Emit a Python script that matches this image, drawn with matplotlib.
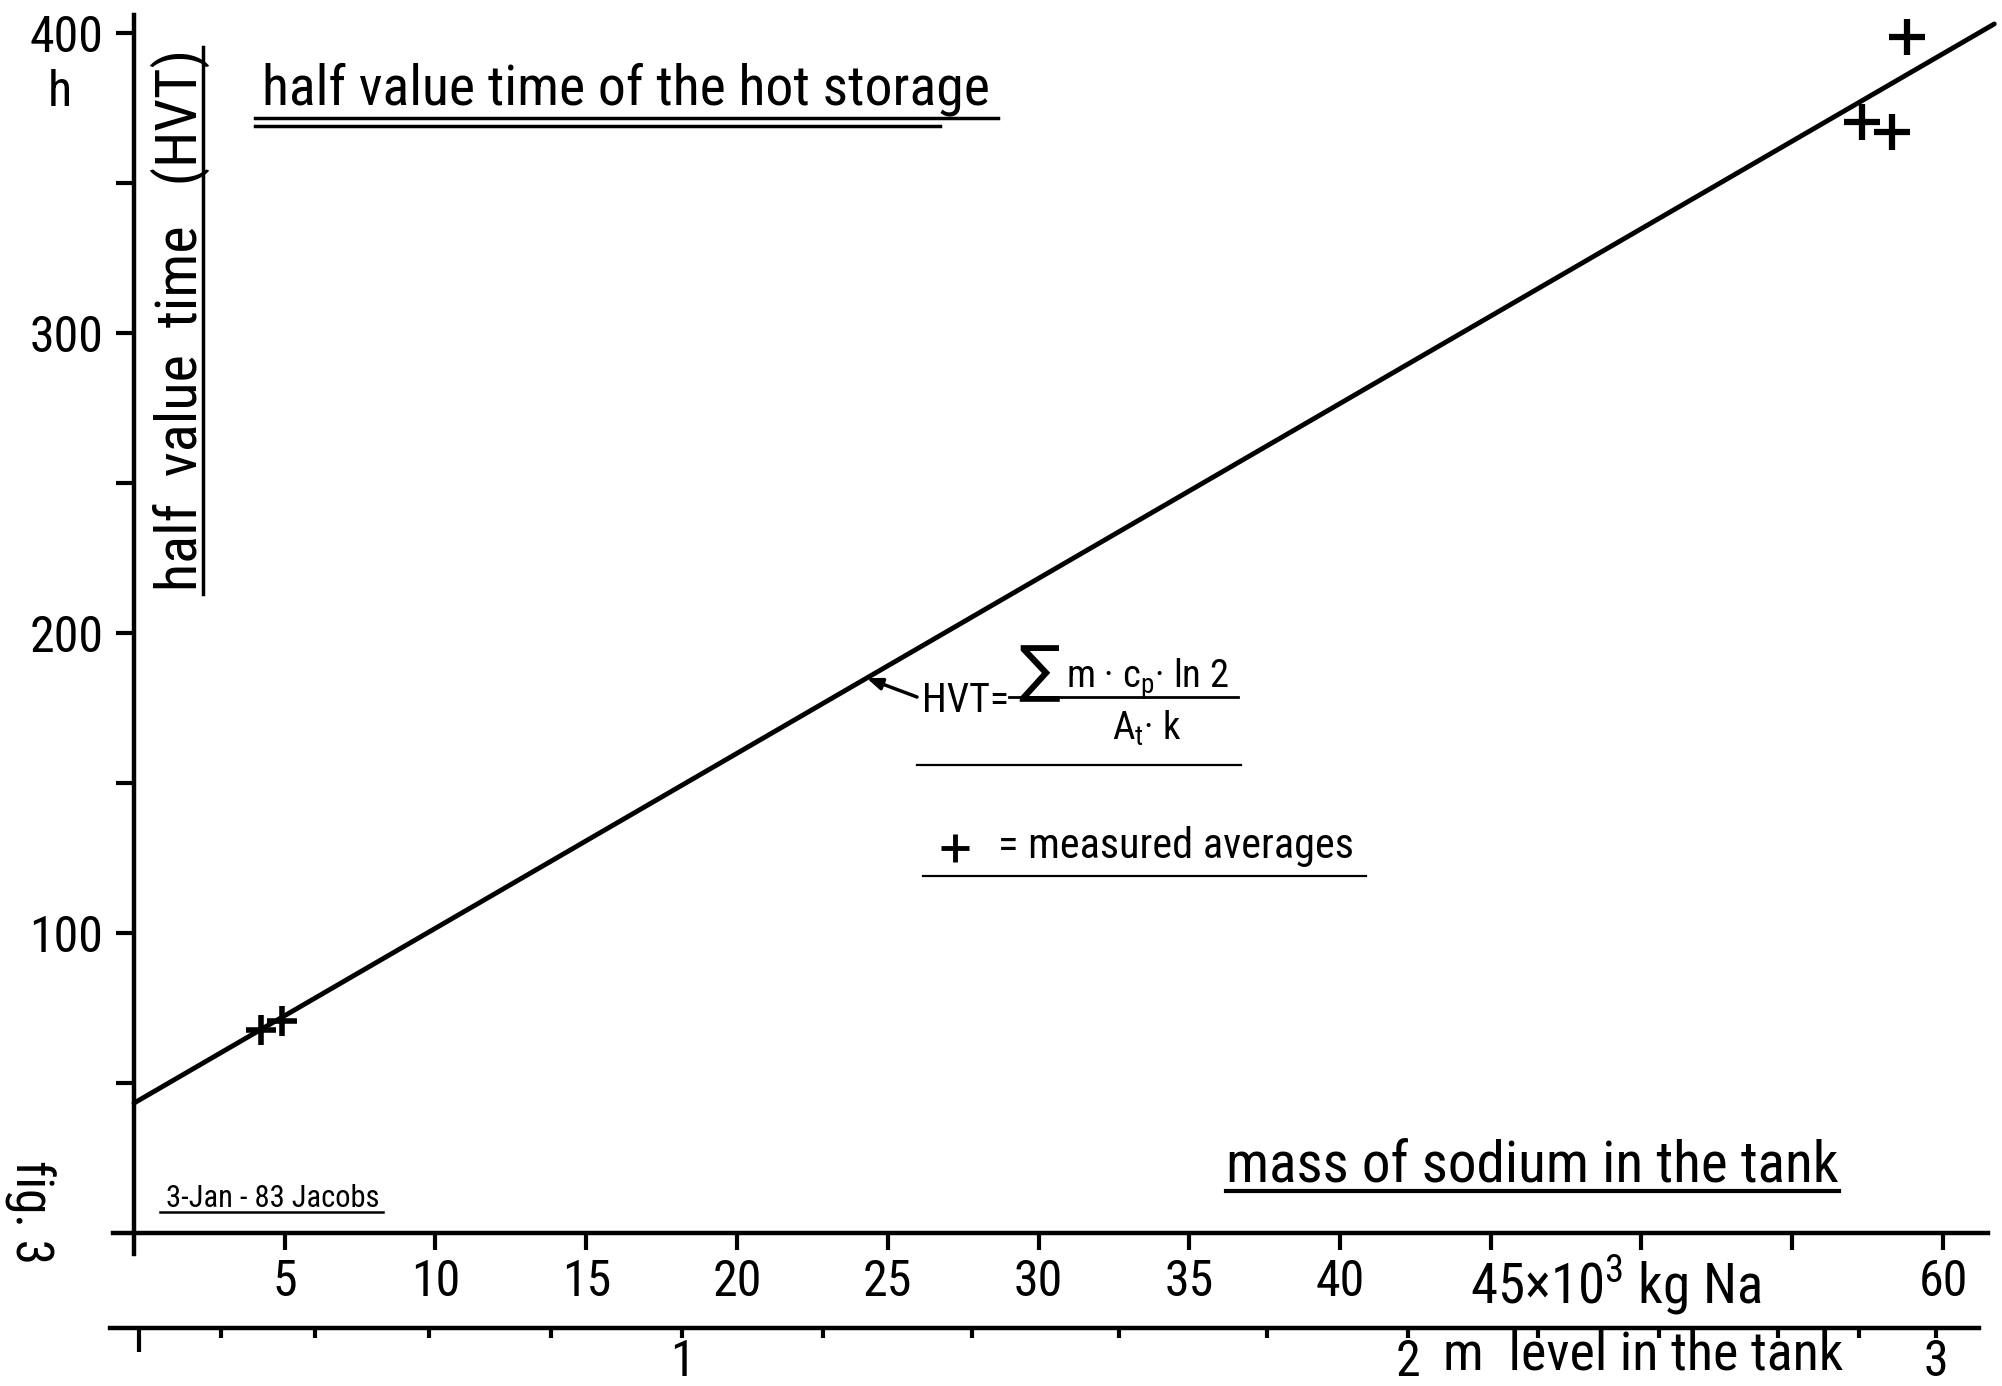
import matplotlib
matplotlib.use('Agg')
import matplotlib.pyplot as plt
from matplotlib import font_manager
from matplotlib.lines import Line2D

W, H = 2002, 1386

# axis values
mass_ticks = [5, 10, 15, 20, 25, 30, 35, 40, 45, 50, 55, 60]
mass_tick_labels = ['5', '10', '15', '20', '25', '30', '35', '40', '', '', '', '60']
hvt_major = [100, 200, 300, 400]
hvt_minor = [50, 150, 250, 350]

# level in the tank (m) vs mass position (10^3 kg) on the lower scale
level_m = [0.0, 0.2, 0.4, 0.6, 0.8, 1.0, 1.2, 1.4, 1.6, 1.8,
           2.0, 2.2, 2.4, 2.6, 2.8, 3.0]
level_mass = [0.17, 2.89, 6.00, 9.78, 13.83, 18.18, 22.85, 27.79, 32.67, 37.58,
              42.26, 46.57, 50.58, 54.53, 57.21, 59.77]

# measured averages
mass_low = [4.2, 4.9]
hvt_low = [67.7, 70.7]
mass_high = [58.8, 57.3, 58.3]
hvt_high = [398.7, 370.4, 367.0]

# calculated HVT line
fit_intercept = 43.3
fit_slope = 5.83
fit_mass_max = 61.7
anno_mass = 24.3


def fit(m):
    return fit_intercept + fit_slope * m


# pick a narrow font if there is one (hand lettering is condensed)
fonts = font_manager.fontManager.ttflist
fam, stretch = None, 'normal'
for cand in ['Liberation Sans Narrow', 'Roboto Condensed', 'Open Sans Condensed',
             'DejaVu Sans Condensed']:
    if any(f.name == cand for f in fonts):
        fam = cand
        break
if fam is None:
    for cand in ['Noto Sans', 'Open Sans', 'Roboto', 'DejaVu Sans']:
        if any(f.name == cand and 'condensed' in str(f.stretch) and f.style == 'normal'
               for f in fonts):
            fam, stretch = cand, 'condensed'
            break
if fam is None:
    fam = 'Roboto' if any(f.name == 'Roboto' for f in fonts) else 'DejaVu Sans'
plt.rcParams['font.family'] = [fam, 'DejaVu Sans']
plt.rcParams['font.stretch'] = stretch
plt.rcParams['mathtext.default'] = 'regular'

# pixel mapping of the drawing
x0px, pxm = 134, 30.15
y0px, pxh = 1233, 3.0

fig = plt.figure(figsize=(W / 100, H / 100), dpi=100)
fig.patch.set_facecolor('white')
renderer = fig.canvas.get_renderer()
ax = fig.add_axes([0, 0, 1, 1])
ax.set_xlim(-x0px / pxm, (W - x0px) / pxm)
ax.set_ylim((y0px - H) / pxh, y0px / pxh)
ax.patch.set_visible(False)
for s in ['top', 'right']:
    ax.spines[s].set_visible(False)
ax.spines['left'].set_position(('data', 0))
ax.spines['left'].set_bounds(-7, 406)
ax.spines['bottom'].set_position(('data', 0))
ax.spines['bottom'].set_bounds(-0.7, 61.5)
for s in ['left', 'bottom']:
    ax.spines[s].set_linewidth(3.2)

ax.set_xticks(mass_ticks, mass_tick_labels)
ax.set_yticks(hvt_major, [str(v) for v in hvt_major])
ax.set_yticks(hvt_minor, minor=True)
ax.tick_params(axis='x', direction='out', length=12, width=3, pad=6, labelsize=36)
ax.tick_params(axis='y', which='both', direction='out', length=13, width=3, pad=9, labelsize=36)

# fit line and points
ax.plot([0, fit_mass_max], [fit(0), fit(fit_mass_max)], color='black', lw=3.5,
        solid_capstyle='round')
ax.plot(mass_low, hvt_low, ls='none', marker='+', ms=21, mew=4, color='black')
ax.plot(mass_high, hvt_high, ls='none', marker='+', ms=26, mew=4.5, color='black')

# annotation arrow for formula
ax.annotate('', xy=(anno_mass, fit(anno_mass)), xytext=(917, H - 697),
            textcoords='figure pixels',
            arrowprops=dict(arrowstyle='-|>,head_length=0.9,head_width=0.35',
                            color='black', lw=2.5, shrinkA=0, shrinkB=0))

# level axis
ax2 = fig.add_axes([0, (H - 1328) / H, 1, 1e-4])
ax2.set_xlim(ax.get_xlim())
ax2.patch.set_visible(False)
for s in ['top', 'right', 'left']:
    ax2.spines[s].set_visible(False)
ax2.spines['bottom'].set_bounds(-0.8, 61.2)
ax2.spines['bottom'].set_linewidth(3.2)
ax2.set_yticks([])
maj_pos = [m for l, m in zip(level_m, level_mass) if abs(l - round(l)) < 1e-6]
maj_lab = ['' if round(l) == 0 else str(int(round(l)))
           for l in level_m if abs(l - round(l)) < 1e-6]
min_pos = [m for l, m in zip(level_m, level_mass) if abs(l - round(l)) >= 1e-6]
ax2.set_xticks(maj_pos, maj_lab)
ax2.set_xticks(min_pos, minor=True)
ax2.tick_params(axis='x', which='both', direction='out', length=7, width=3, pad=0,
                labelsize=36)
ax2.xaxis.get_major_ticks()[0].tick1line.set_markersize(17)


def T(xp, yp, s, **kw):
    kw.setdefault('color', 'black')
    return fig.text(xp / W, 1 - yp / H, s, **kw)


def fitT(xp, yp, s, width, size, vertical=False, maxsize=60, **kw):
    # scale the text so it is as long as the hand lettering
    t = T(xp, yp, s, fontsize=size, **kw)
    bb = t.get_window_extent(renderer)
    w = bb.height if vertical else bb.width
    t.set_fontsize(min(maxsize, size * width / w))
    return t


def L(xs, ys, lw=2.5):
    fig.add_artist(Line2D([x / W for x in xs], [1 - y / H for y in ys],
                          transform=fig.transFigure, color='black', lw=lw))


# texts
fitT(262, 105, 'half value time of the hot storage', 728, 37, maxsize=42, va='baseline')
L([255, 998], [118, 118])
L([255, 940], [126, 126])

fitT(197, 320, 'half  value  time   (HVT)', 547, 35, vertical=True, maxsize=42,
     rotation=90, rotation_mode='anchor', ha='center', va='baseline')
L([203, 203], [47, 594])

T(60, 92, 'h', fontsize=36, ha='center', va='center')

fitT(1226, 1181, 'mass of sodium in the tank', 612, 37, maxsize=42, va='baseline')
L([1226, 1839], [1191, 1191], lw=3)

fitT(166, 1207, '3-Jan - 83 Jacobs', 217, 18, maxsize=22, va='baseline')
L([160, 383], [1212, 1212], lw=1.8)

T(30, 1212, 'fig. 3', fontsize=37, rotation=270, ha='center', va='center')

fitT(1470, 1302, '45$\\times$10$^3$ kg Na', 292, 36, maxsize=40, va='baseline')
fitT(1443, 1370, 'm  level in the tank', 400, 36, maxsize=40, va='baseline')

# formula
hv = fitT(922, 712, 'HVT=', 87, 28, va='baseline')
bar_x0 = hv.get_window_extent(renderer).x1
fitT(1018, 690, '\u2211', 42, 38, va='baseline', family=['DejaVu Sans'])
fitT(1066, 688, 'm \u00b7 c$_p$\u00b7 ln 2', 163, 28, va='baseline')
L([bar_x0, 1238], [697, 697], lw=2)
T(1147, 740, 'A$_t$\u00b7 k', fontsize=28, va='baseline', ha='center')
L([917, 1241], [765, 765], lw=1.6)

# legend
fig.add_artist(Line2D([955 / W], [1 - 848 / H], transform=fig.transFigure,
                      ls='none', marker='+', ms=20, mew=3.5, color='black'))
fitT(998, 858, '= measured averages', 355, 28, maxsize=32, va='baseline')
L([923, 1366], [876, 876], lw=1.6)

fig.savefig('out.png', dpi=100, facecolor='white')
